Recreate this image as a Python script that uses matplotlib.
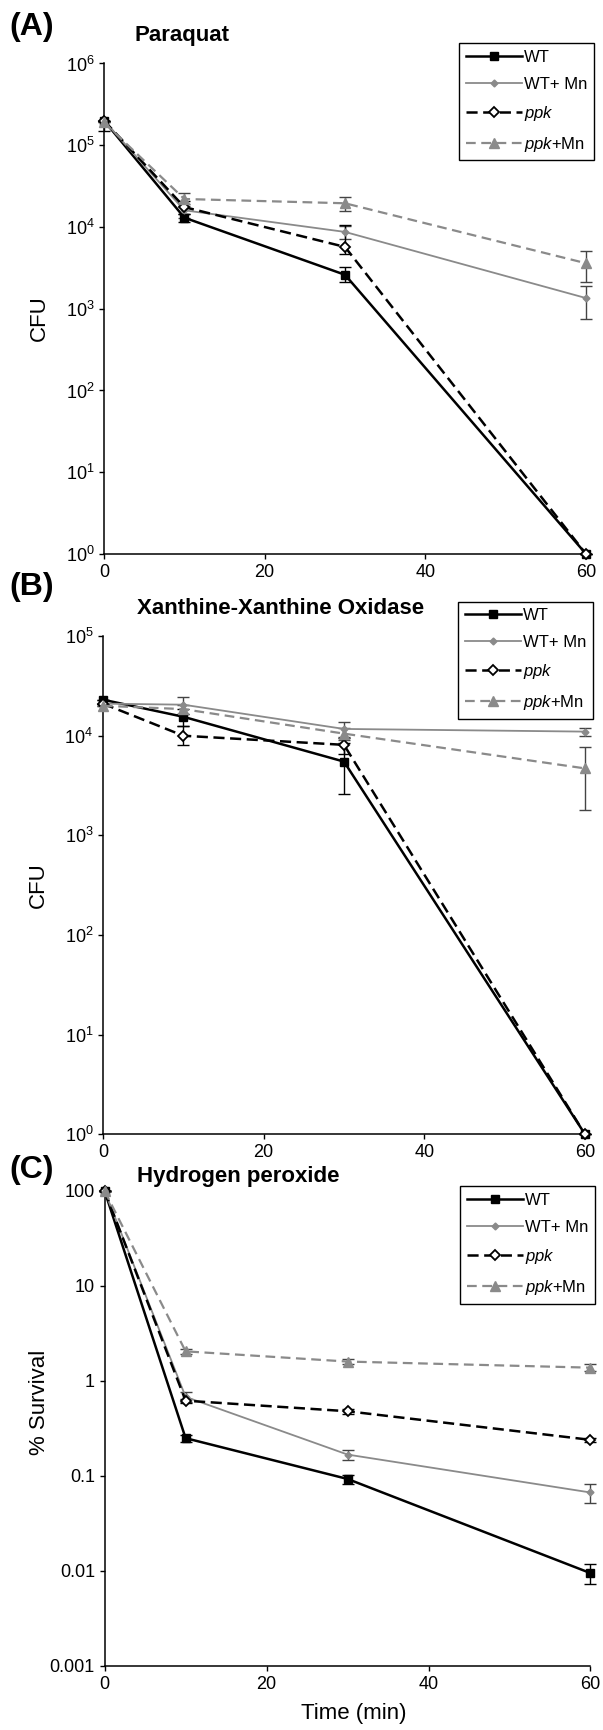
import matplotlib
matplotlib.use("Agg")
import matplotlib.pyplot as plt

plt.rcParams['font.family'] = ['Liberation Sans', 'DejaVu Sans']
plt.rcParams['mathtext.fontset'] = 'custom'
plt.rcParams['mathtext.rm'] = 'Liberation Sans'
plt.rcParams['mathtext.it'] = 'Liberation Sans:italic'
plt.rcParams['mathtext.default'] = 'regular'
plt.rcParams['lines.scale_dashes'] = False

# ---- data ----
time = [0, 10, 30, 60]
labels = ['WT', 'WT+ Mn', r'$\mathit{ppk}$', r'$\mathit{ppk}$+Mn']

# (A) Paraquat, CFU
a_wt = [2.0e5, 1.3e4, 2.6e3, 1]
a_wt_mn = [2.0e5, 1.6e4, 8.7e3, 1.35e3]
a_ppk = [2.0e5, 1.75e4, 5.7e3, 1]
a_ppk_mn = [1.9e5, 2.2e4, 1.95e4, 3.6e3]
a_wt_err = [[5e4, 1.5e3, 5e2, 0], [0, 1.5e3, 6e2, 0]]
a_wt_mn_err = [[0, 3e3, 1.5e3, 6e2], [0, 3e3, 1.5e3, 5.5e2]]
a_ppk_err = [[0, 3e3, 1.0e3, 0], [0, 3e3, 5e3, 0]]
a_ppk_mn_err = [[0, 4e3, 4e3, 1.5e3], [0, 4e3, 4e3, 1.5e3]]

# (B) Xanthine-Xanthine Oxidase, CFU
b_wt = [2.3e4, 1.55e4, 5.5e3, 1]
b_wt_mn = [2.1e4, 2.05e4, 1.17e4, 1.1e4]
b_ppk = [2.1e4, 1.0e4, 8.1e3, 1]
b_ppk_mn = [2.0e4, 1.85e4, 1.05e4, 4.7e3]
b_wt_err = [[0, 3e3, 2.9e3, 0], [0, 3e3, 3e3, 0]]
b_wt_mn_err = [[0, 4e3, 2e3, 1e3], [0, 4e3, 2e3, 1e3]]
b_ppk_err = [[0, 2e3, 1.5e3, 0], [0, 2.5e3, 1.5e3, 0]]
b_ppk_mn_err = [[0, 2e3, 1.5e3, 2.9e3], [0, 2e3, 1.5e3, 3.0e3]]

# (C) Hydrogen peroxide, % survival
c_wt = [100, 0.25, 0.093, 0.0095]
c_wt_mn = [100, 0.68, 0.168, 0.067]
c_ppk = [100, 0.62, 0.48, 0.24]
c_ppk_mn = [100, 2.05, 1.6, 1.38]
c_wt_err = [0, 0.02, 0.01, 0.0022]
c_wt_mn_err = [0, 0.08, 0.02, 0.015]
c_ppk_err = [0, 0.03, 0.03, 0.01]
c_ppk_mn_err = [0, 0.12, 0.1, 0.12]

GRAY = '#8a8a8a'
styles = [
    dict(color='black', lw=1.8, ls='-', marker='s', ms=6, mfc='black', mec='black'),
    dict(color=GRAY, lw=1.3, ls='-', marker='D', ms=3.5, mfc=GRAY, mec=GRAY),
    dict(color='black', lw=1.8, ls='--', dashes=(8, 4), marker='D', ms=5.5, mfc='white', mec='black', mew=1.3),
    dict(color=GRAY, lw=1.6, ls='--', dashes=(7, 4), marker='^', ms=6.5, mfc=GRAY, mec=GRAY),
]
err_colors = ['black', '#444444', 'black', '#444444']


def draw_panel(ax, series, errors, ylim, legend_anchor, fig):
    handles = []
    for vals, err, st, ec in zip(series, errors, styles, err_colors):
        ax.errorbar(time, vals, yerr=err, fmt='none', ecolor=ec, elinewidth=1.0,
                    capsize=4, capthick=1.0, clip_on=False, zorder=2)
        line, = ax.plot(time, vals, clip_on=False, zorder=3, **st)
        handles.append(line)
    ax.set_yscale('log')
    ax.set_xlim(0, 60)
    ax.set_ylim(*ylim)
    ax.set_xticks([0, 20, 40, 60])
    ax.minorticks_off()
    for side in ['top', 'right']:
        ax.spines[side].set_visible(False)
    for side in ['left', 'bottom']:
        ax.spines[side].set_linewidth(1.1)
    ax.tick_params(direction='out', length=3.5, width=1.0, labelsize=13)
    leg = ax.legend(handles, labels, loc='upper right', bbox_to_anchor=legend_anchor,
                    bbox_transform=fig.transFigure, borderaxespad=0, fontsize=12,
                    handlelength=3.4, handletextpad=0.1, labelspacing=0.72,
                    borderpad=0.4, fancybox=False, edgecolor='black', framealpha=1)
    leg.get_frame().set_linewidth(1.0)
    return ax


fig = plt.figure(figsize=(6.03, 17.30), dpi=100)

# (A)
ax_a = fig.add_axes([0.1725, 0.6798, 0.7993, 0.2835])
draw_panel(ax_a, [a_wt, a_wt_mn, a_ppk, a_ppk_mn],
           [a_wt_err, a_wt_mn_err, a_ppk_err, a_ppk_mn_err],
           (1, 1e6), (0.985, 0.9751), fig)
ax_a.set_ylabel('CFU', fontsize=16)
ax_a.yaxis.set_label_coords(-0.112, 0.48)
fig.text(0.016, 0.9844, '(A)', fontsize=23, fontweight='bold', va='center', ha='left')
fig.text(0.2232, 0.9792, 'Paraquat', fontsize=16, fontweight='bold', va='center', ha='left')

# (B)
ax_b = fig.add_axes([0.1708, 0.3444, 0.7993, 0.2879])
draw_panel(ax_b, [b_wt, b_wt_mn, b_ppk, b_ppk_mn],
           [b_wt_err, b_wt_mn_err, b_ppk_err, b_ppk_mn_err],
           (1, 1e5), (0.9834, 0.6523), fig)
ax_b.set_ylabel('CFU', fontsize=16)
ax_b.yaxis.set_label_coords(-0.112, 0.5)
fig.text(0.016, 0.6607, '(B)', fontsize=23, fontweight='bold', va='center', ha='left')
fig.text(0.2264, 0.648, 'Xanthine-Xanthine Oxidase', fontsize=16, fontweight='bold',
         va='center', ha='left')

# (C)
ax_c = fig.add_axes([0.1735, 0.037, 0.8057, 0.2746])
draw_panel(ax_c, [c_wt, c_wt_mn, c_ppk, c_ppk_mn],
           [c_wt_err, c_wt_mn_err, c_ppk_err, c_ppk_mn_err],
           (0.001, 100), (0.9867, 0.3142), fig)
ax_c.set_yticks([0.001, 0.01, 0.1, 1, 10, 100])
ax_c.set_yticklabels(['0.001', '0.01', '0.1', '1', '10', '100'])
ax_c.minorticks_off()
ax_c.set_ylabel('% Survival', fontsize=16)
ax_c.yaxis.set_label_coords(-0.112, 0.554)
ax_c.set_xlabel('Time (min)', fontsize=16)
ax_c.xaxis.set_label_coords(0.513, -0.078)
fig.text(0.016, 0.3237, '(C)', fontsize=23, fontweight='bold', va='center', ha='left')
fig.text(0.2264, 0.3197, 'Hydrogen peroxide', fontsize=16, fontweight='bold',
         va='center', ha='left')

fig.savefig('out.png', dpi=100)
